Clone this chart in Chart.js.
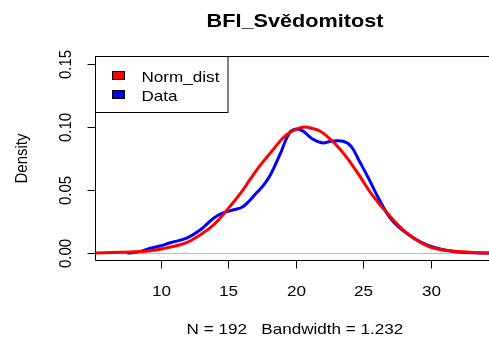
<!DOCTYPE html>
<html>
<head>
<meta charset="utf-8">
<script src="https://cdn.jsdelivr.net/npm/chart.js@4/dist/chart.umd.min.js"></script>
<style>
  html, body { margin: 0; padding: 0; background: #fff; }
  canvas { display: block; }
</style>
</head>
<body>
<canvas id="chart" width="489" height="345"></canvas>
<script>
// ── Data ───────────────────────────────────────────────────────────────────
const titleText  = 'BFI_Svědomitost';
const xAxisLabel = 'N = 192   Bandwidth = 1.232';
const yAxisLabel = 'Density';

const seriesNames  = ['Norm_dist', 'Data'];
const seriesColors = ['#FF0000', '#0000FF'];

// Norm_dist density curve
const normX = [4.5, 5.2, 7.0, 9.2, 10.7, 11.9, 12.9, 13.9, 14.9, 15.9, 16.6, 17.3,
               18.3, 19.3, 20.3, 20.7, 21.0, 21.8, 22.5, 23.3, 24.0, 24.7, 25.7,
               27.0, 28.4, 29.9, 31.6, 33.6, 35.0];
const normY = [0.0, 0.0002, 0.0008, 0.0021, 0.005, 0.0084, 0.0145, 0.0225, 0.0344,
               0.0476, 0.0585, 0.069, 0.0821, 0.094, 0.0993, 0.1, 0.0995, 0.0967,
               0.0908, 0.0821, 0.0725, 0.0615, 0.0455, 0.029, 0.0145, 0.0052, 0.0018,
               0.0005, 0.0002];

// Data density curve (KDE of the sample)
const dataX = [7.5, 8.5, 9.2, 10.0, 10.7, 11.9, 12.9, 13.9, 14.6, 15.4, 16.0, 16.5,
               17.0, 17.6, 18.1, 18.8, 19.5, 20.0, 20.5, 21.2, 22.0, 22.6, 23.5,
               24.1, 24.7, 25.4, 26.0, 27.0, 28.2, 29.7, 31.4, 33.1, 34.6];
const dataY = [0.0, 0.0015, 0.004, 0.006, 0.0084, 0.012, 0.0185, 0.0278, 0.032,
               0.0345, 0.0365, 0.041, 0.047, 0.054, 0.062, 0.0779, 0.0952, 0.0985,
               0.097, 0.0908, 0.0874, 0.0888, 0.0888, 0.0845, 0.0729, 0.059, 0.046,
               0.0278, 0.0159, 0.0066, 0.0018, 0.0005, 0.0001];

const xTicks      = [10, 15, 20, 25, 30];
const yTicks      = [0, 0.05, 0.10, 0.15];
const yTickLabels = ['0.00', '0.05', '0.10', '0.15'];

// ── Look ───────────────────────────────────────────────────────────────────
const FONT = "'Liberation Sans', Arial, sans-serif";
const SX   = 1.14;   // reference text is a little wider than tall

function toPoints(xs, ys) {
  return xs.map((x, i) => ({ x: x, y: ys[i] }));
}

// draw text with the horizontal stretch, optionally rotated to read upward
function drawText(ctx, text, x, y, font, align, rotate) {
  ctx.save();
  ctx.translate(x, y);
  ctx.scale(SX, 1);
  if (rotate) ctx.rotate(-Math.PI / 2);
  ctx.font = font;
  ctx.fillStyle = '#000';
  ctx.textAlign = align;
  ctx.textBaseline = 'alphabetic';
  ctx.fillText(text, 0, 0);
  ctx.restore();
}

const rFrame = {
  id: 'r-frame',
  beforeDraw(chart) {
    const ctx = chart.ctx;
    ctx.save();
    ctx.fillStyle = '#fff';
    ctx.fillRect(0, 0, chart.width, chart.height);
    ctx.restore();
  },
  beforeDatasetsDraw(chart) {
    // grey reference line at zero
    const { ctx, chartArea: a, scales: { y } } = chart;
    const py = Math.round(y.getPixelForValue(0)) + 0.5;
    ctx.save();
    ctx.strokeStyle = '#BEBEBE';
    ctx.lineWidth = 1;
    ctx.beginPath();
    ctx.moveTo(a.left, py);
    ctx.lineTo(a.right, py);
    ctx.stroke();
    ctx.restore();
  },
  afterDraw(chart) {
    const { ctx, chartArea: a, scales: { x, y } } = chart;
    const L = a.left + 0.5, T = a.top + 0.5, B = a.bottom - 0.5;

    ctx.save();
    ctx.strokeStyle = '#000';
    ctx.lineWidth = 1;

    // box (right side falls outside the picture)
    ctx.beginPath();
    ctx.moveTo(a.right, T); ctx.lineTo(L, T); ctx.lineTo(L, B); ctx.lineTo(a.right, B);
    ctx.stroke();

    // x ticks + labels
    xTicks.forEach(v => {
      const px = Math.round(x.getPixelForValue(v)) + 0.5;
      ctx.beginPath(); ctx.moveTo(px, B); ctx.lineTo(px, B + 8); ctx.stroke();
      drawText(ctx, String(v), px, 296, '15px ' + FONT, 'center', false);
    });

    // y ticks + rotated labels
    yTicks.forEach((v, i) => {
      const py = Math.round(y.getPixelForValue(v)) + 0.5;
      ctx.beginPath(); ctx.moveTo(L - 8, py); ctx.lineTo(L, py); ctx.stroke();
      drawText(ctx, yTickLabels[i], 71, py, '15px ' + FONT, 'center', true);
    });

    // legend
    ctx.fillStyle = '#fff';
    ctx.fillRect(L, T, 132.5, 56);
    ctx.strokeRect(L, T, 132.5, 56);
    const rows = [71, 90];
    const bases = [82, 101];
    seriesNames.forEach((name, i) => {
      ctx.fillStyle = seriesColors[i];
      ctx.fillRect(112, rows[i], 13, 9);
      ctx.strokeRect(112.5, rows[i] + 0.5, 12, 8);
      drawText(ctx, name, 141.5, bases[i], '15px ' + FONT, 'left', false);
    });

    // titles
    drawText(ctx, titleText, 295, 26.5, 'bold 19px ' + FONT, 'center', false);
    drawText(ctx, xAxisLabel, 295, 334, '15px ' + FONT, 'center', false);
    drawText(ctx, yAxisLabel, 27, (a.top + a.bottom) / 2, '15px ' + FONT, 'center', true);

    ctx.restore();
  }
};

new Chart(document.getElementById('chart'), {
  type: 'scatter',
  data: {
    datasets: [
      { label: seriesNames[0], data: toPoints(normX, normY) },
      { label: seriesNames[1], data: toPoints(dataX, dataY) },
    ].map((ds, i) => Object.assign(ds, {
      showLine: true,
      borderColor: seriesColors[i],
      backgroundColor: seriesColors[i],
      borderWidth: 3,
      pointRadius: 0,
      tension: 0.4,
      clip: 0,
    }))
  },
  options: {
    responsive: false,
    animation: false,
    devicePixelRatio: 1,
    layout: { padding: { left: 95, top: 56, right: 0, bottom: 84 } },
    plugins: { legend: { display: false }, tooltip: { enabled: false } },
    scales: {
      x: { type: 'linear', min: 5.111, max: 34.3, display: false },
      y: { type: 'linear', min: -0.0061, max: 0.1563, display: false },
    }
  },
  plugins: [rFrame]
});
</script>
</body>
</html>
